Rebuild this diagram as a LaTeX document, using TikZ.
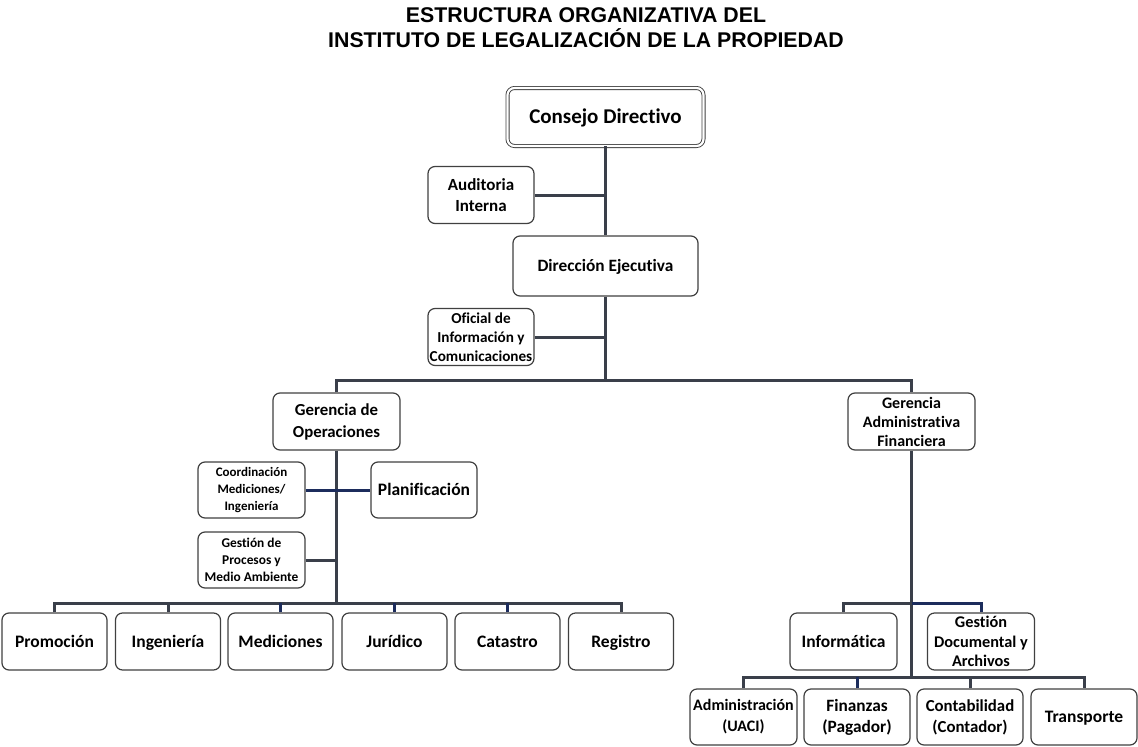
\documentclass[tikz,border=0pt]{standalone}
\usepackage{fontspec}
\setmainfont{Carlito}[RawFeature={-liga}]
\newfontfamily\titlefont{Liberation Sans}
\definecolor{linegray}{HTML}{3A3F4A}
\definecolor{navyline}{HTML}{1C2C5C}
\definecolor{boxgray}{HTML}{404040}
\newcommand{\fs}[2]{\fontsize{#1}{#2}\selectfont}
\tikzset{
  box/.style={draw=boxgray, rounded corners=7pt, line width=1.2pt, fill=white, align=center,
    font=\bfseries\fs{17.5}{21}, inner sep=1pt},
  oneline/.style={text height=12.5pt, text depth=1.5pt},
  conn/.style={draw=linegray, line width=3pt},
  connnavy/.style={draw=navyline, line width=3pt},
}
\begin{document}
\begin{tikzpicture}[x=1pt,y=-1pt]
\useasboundingbox (0,0) rectangle (1138,747);
\node[font=\titlefont\bfseries\fs{21.3}{25}, align=center] (title) at (586,28)
  {ESTRUCTURA ORGANIZATIVA DEL\\INSTITUTO DE LEGALIZACIÓN DE LA PROPIEDAD};
% nodes
\node[box, oneline, double=white, double distance=2.2pt, line width=0.9pt, minimum width=196pt, minimum height=58pt, font=\bfseries\fs{21}{25}, text height=14.5pt, text depth=2pt] (consejo) at (605.5,117) {Consejo Directivo};
\node[box, minimum width=106pt, minimum height=57pt, font=\bfseries\fs{17}{20.5}] (audit) at (481,195) {Auditoria\\Interna};
\node[box, oneline, minimum width=185pt, minimum height=60pt, font=\bfseries\fs{17.3}{21}] (direc) at (605.5,266) {Dirección Ejecutiva};
\node[box, minimum width=106pt, minimum height=57pt, font=\bfseries\fs{15.2}{19}] (oficial) at (481,337) {Oficial de\\Información y\\Comunicaciones};
\node[box, minimum width=127pt, minimum height=57pt, font=\bfseries\fs{16.8}{22}] (gop) at (336.5,421.5) {Gerencia de\\Operaciones};
\node[box, minimum width=127pt, minimum height=57pt, font=\bfseries\fs{16}{19}] (gaf) at (911.5,421.5) {Gerencia\\Administrativa\\Financiera};
\node[box, minimum width=107pt, minimum height=56pt, font=\bfseries\fs{13}{17}] (coord) at (251.5,490) {Coordinación\\Mediciones/\\Ingeniería};
\node[box, oneline, minimum width=106pt, minimum height=56pt] (plan) at (424,490) {Planificación};
\node[box, minimum width=107pt, minimum height=56pt, font=\bfseries\fs{13.4}{17}] (gproc) at (251.5,560) {Gestión de\\Procesos y\\Medio Ambiente};
\foreach \n/\x/\t in {promo/54.5/Promoción, ing/168/Ingeniería, med/280.5/Mediciones, jur/394.5/Jurídico, cat/507.5/Catastro, reg/621/Registro}
  \node[box, oneline, minimum width=105pt, minimum height=57pt] (\n) at (\x,641.5) {\t};
\node[box, oneline, minimum width=107pt, minimum height=57pt] (info) at (843.5,641.5) {Informática};
\node[box, minimum width=107pt, minimum height=57pt, font=\bfseries\fs{16.3}{19.5}] (gdoc) at (981,641.5) {Gestión\\Documental y\\Archivos};
\node[box, minimum width=107pt, minimum height=56pt, font=\bfseries\fs{16}{21}] (adm) at (743.5,717) {Administración\\(UACI)};
\node[box, minimum width=106pt, minimum height=56pt, font=\bfseries\fs{17.3}{21}] (fin) at (857,717) {Finanzas\\(Pagador)};
\node[box, minimum width=106pt, minimum height=56pt, font=\bfseries\fs{16.8}{21}] (cont) at (970,717) {Contabilidad\\(Contador)};
\node[box, oneline, minimum width=106pt, minimum height=56pt] (trans) at (1084,717) {Transporte};
% junctions
\coordinate (j1) at (605.5,380);
\coordinate (j2) at (336.5,603);
\coordinate (j3) at (911.5,603);
\coordinate (j4) at (911.5,677);
% connectors
\draw[conn] (consejo.south) -- (direc.north);
\draw[conn] (direc.south) -- (j1);
\draw[conn] (audit.east) -- (audit.east -| direc.north);
\draw[conn] (oficial.east) -- (oficial.east -| direc.south);
\draw[conn] (gop.north) |- (j1) -| (gaf.north);
\draw[conn] (gop.south) -- (j2);
\draw[connnavy] (coord.east) -- (plan.west);
\draw[conn] (gproc.east) -- (gproc.east -| gop.south);
\draw[conn] (promo.north) |- (j2) -| (reg.north);
\draw[conn] (ing.north) -- (ing.north |- j2);
\draw[connnavy] (med.north) -- (med.north |- j2);
\draw[connnavy] (jur.north) -- (jur.north |- j2);
\draw[connnavy] (cat.north) -- (cat.north |- j2);
\draw[conn] (gaf.south) -- (j4);
\draw[conn] (info.north) |- (j3);
\draw[connnavy] (j3) -| (gdoc.north);
\draw[conn] (adm.north) |- (j4) -| (trans.north);
\draw[connnavy] (fin.north) -- (fin.north |- j4);
\draw[conn] (cont.north) -- (cont.north |- j4);
\end{tikzpicture}
\end{document}
